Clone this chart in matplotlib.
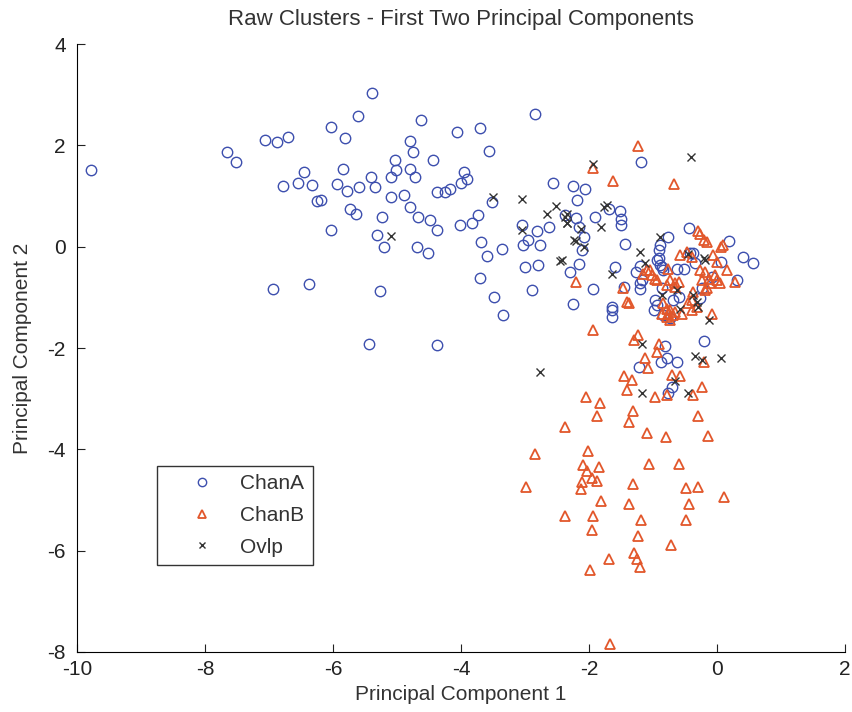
import matplotlib.pyplot as plt
import numpy as np

plt.rcParams['font.family'] = ['Liberation Sans', 'DejaVu Sans']
plt.rcParams['axes.unicode_minus'] = False

# projected spike waveforms, first two principal components
chan_a = np.array([
    [-9.78, 1.51], [-7.65, 1.87], [-7.52, 1.68], [-7.06, 2.10], [-6.88, 2.06],
    [-6.71, 2.16], [-6.03, 2.37], [-5.81, 2.14], [-6.45, 1.47], [-6.54, 1.25],
    [-6.33, 1.21], [-6.78, 1.19], [-6.25, 0.90], [-5.93, 1.23], [-5.84, 1.53],
    [-6.03, 0.34], [-6.93, -0.84], [-6.37, -0.74], [-5.39, 3.04], [-5.61, 2.59],
    [-4.62, 2.51], [-4.07, 2.27], [-3.71, 2.34], [-2.85, 2.62], [-4.79, 2.08],
    [-4.75, 1.88], [-3.57, 1.89], [-5.03, 1.72], [-4.43, 1.72], [-5.01, 1.51],
    [-4.79, 1.53], [-3.96, 1.47], [-3.91, 1.33], [-4.00, 1.25], [-5.40, 1.37],
    [-5.09, 1.37], [-4.72, 1.37], [-5.78, 1.11], [-5.59, 1.18], [-5.34, 1.18],
    [-6.18, 0.92], [-5.09, 0.98], [-4.89, 1.03], [-4.38, 1.08], [-4.25, 1.08],
    [-4.17, 1.14], [-3.51, 0.88], [-5.73, 0.75], [-5.64, 0.65], [-5.23, 0.59],
    [-4.79, 0.78], [-4.67, 0.59], [-4.49, 0.52], [-4.37, 0.34], [-3.74, 0.62],
    [-3.83, 0.46], [-4.01, 0.42], [-5.31, 0.24], [-5.21, 0.00], [-4.68, 0.00],
    [-4.51, -0.13], [-3.69, 0.09], [-3.60, -0.18], [-3.36, -0.05], [-3.71, -0.61],
    [-3.48, -1.00], [-3.34, -1.35], [-5.26, -0.88], [-5.43, -1.91], [-4.38, -1.94],
    [-2.57, 1.26], [-2.25, 1.19], [-2.06, 1.15], [-2.19, 0.92], [-3.05, 0.42],
    [-2.81, 0.31], [-2.63, 0.39], [-2.96, 0.13], [-3.03, 0.03], [-2.76, 0.03],
    [-3.00, -0.40], [-2.80, -0.36], [-2.89, -0.86], [-2.30, -0.50], [-2.25, -1.13],
    [-2.37, 0.62], [-1.19, 1.67], [-1.69, 0.75], [-1.52, 0.71], [-1.90, 0.59],
    [-1.50, 0.54], [-1.50, 0.42], [-2.21, 0.56], [-2.16, 0.39], [-2.08, 0.19],
    [-2.11, -0.07], [-1.43, 0.06], [-2.16, -0.34], [-1.93, -0.84], [-1.60, -0.40],
    [-1.64, -1.18], [-1.21, -0.38], [-1.26, -0.50], [-1.20, -0.72], [-1.21, -0.84],
    [-0.76, 0.19], [-0.89, 0.03], [-0.91, -0.07], [-0.91, -0.23], [-0.86, -0.40],
    [-0.43, 0.38], [0.18, 0.11], [0.40, -0.20], [0.56, -0.33], [-0.42, -0.12],
    [-0.51, -0.43], [0.31, -0.66], [-0.08, -0.59], [-1.64, -1.25], [-1.64, -1.38],
    [-0.81, -1.96], [-0.78, -2.20], [-0.88, -2.27], [-0.63, -2.27], [-1.22, -2.37],
    [-0.20, -1.87], [-0.71, -2.76], [-0.76, -2.89], [-0.94, -0.27], [-0.89, -0.36],
    [-0.84, -0.46], [-0.37, -0.13], [-1.17, -0.66], [-1.46, -0.79], [-0.63, -0.43],
    [-0.34, -0.33], [-0.86, -0.82], [-0.97, -1.05], [-0.99, -1.25], [-0.94, -1.15],
    [-0.84, -1.35], [-0.73, -1.41], [-0.68, -1.05], [-0.60, -0.99], [-0.24, -0.82],
    [-0.26, -1.02], [0.07, -0.30],
])

chan_b = np.array([
    [-1.24, 1.98], [-1.94, 1.56], [-1.63, 1.30], [-0.67, 1.24], [-2.21, -0.69],
    [-1.47, -0.82], [-1.38, -1.12], [-0.29, 0.32], [-0.21, 0.13], [0.10, 0.03],
    [-0.26, 0.26], [-0.16, 0.09], [0.07, 0.00], [-0.58, -0.17], [-0.47, -0.10],
    [-0.39, -0.20], [-0.06, -0.17], [0.00, -0.30], [0.15, -0.46], [-1.10, -0.46],
    [-1.02, -0.56], [-0.94, -0.66], [-0.76, -0.43], [-0.26, -0.46], [-0.19, -0.50],
    [-0.24, -0.66], [-0.13, -0.63], [-0.03, -0.56], [0.00, -0.66], [-0.11, -0.72],
    [0.05, -0.72], [0.28, -0.69], [-0.73, -0.66], [-0.65, -0.72], [-0.60, -0.69],
    [-0.78, -0.76], [-0.65, -0.79], [-0.19, -0.86], [-0.37, -0.89], [-0.39, -1.05],
    [-0.45, -1.12], [-0.32, -1.18], [-1.41, -1.09], [-0.84, -1.12], [-0.78, -1.22],
    [-0.73, -1.25], [-0.76, -1.32], [-0.86, -1.32], [-0.68, -1.35], [-0.65, -1.28],
    [-0.73, -1.45], [-0.78, -1.38], [-0.55, -1.32], [-0.39, -1.25], [-1.15, -0.53],
    [-1.04, -0.46], [-0.97, -0.63], [-0.16, -0.82], [-0.08, -1.32], [-1.93, -1.64],
    [-1.23, -1.74], [-1.30, -1.84], [-0.90, -1.91], [-0.94, -2.07], [-1.12, -2.20],
    [-1.08, -2.40], [-0.21, -2.27], [-0.71, -2.53], [-0.58, -2.56], [-1.46, -2.56],
    [-1.33, -2.63], [-1.41, -2.82], [-0.24, -2.76], [-0.97, -2.96], [-0.78, -2.92],
    [-0.37, -2.92], [-2.05, -2.96], [-1.83, -3.09], [-1.87, -3.34], [-1.31, -3.25],
    [-1.38, -3.45], [-0.29, -3.35], [-2.37, -3.55], [-1.10, -3.68], [-0.79, -3.76],
    [-0.14, -3.73], [-2.85, -4.10], [-2.01, -4.04], [-2.10, -4.31], [-1.84, -4.35],
    [-2.03, -4.43], [-1.96, -4.56], [-1.87, -4.63], [-2.11, -4.65], [-2.13, -4.78],
    [-1.07, -4.29], [-0.60, -4.29], [-2.98, -4.74], [-1.32, -4.69], [-0.49, -4.77],
    [-0.30, -4.74], [0.11, -4.94], [-1.82, -5.01], [-1.37, -5.08], [-0.44, -5.08],
    [-2.37, -5.32], [-1.94, -5.32], [-1.18, -5.40], [-0.49, -5.40], [-1.96, -5.60],
    [-1.24, -5.71], [-0.72, -5.89], [-1.29, -6.04], [-1.25, -6.17], [-1.21, -6.32],
    [-1.68, -6.17], [-1.99, -6.38], [-1.67, -7.84],
])

ovlp = np.array([
    [-5.09, 0.21], [-3.50, 0.98], [-3.05, 0.94], [-2.52, 0.80], [-2.66, 0.65],
    [-2.34, 0.65], [-2.35, 0.47], [-3.05, 0.34], [-2.21, 0.11], [-2.45, -0.28],
    [-1.94, 1.64], [-0.40, 1.77], [-1.72, 0.82], [-1.76, 0.78], [-2.37, 0.59],
    [-2.34, 0.46], [-2.13, 0.36], [-1.82, 0.39], [-2.24, 0.14], [-2.08, 0.00],
    [-2.42, -0.27], [-1.64, -0.53], [-1.21, -0.10], [-1.12, -0.33], [-0.89, 0.19],
    [-0.45, -0.15], [-0.21, -0.23], [-0.19, -0.27], [-0.63, -0.86], [-0.86, -0.96],
    [-0.37, -0.96], [-0.29, -1.18], [-0.32, -1.09], [-0.58, -1.22], [-0.13, -1.45],
    [-1.17, -1.91], [-0.34, -2.16], [-0.24, -2.23], [0.07, -2.20], [-0.65, -2.66],
    [-1.17, -2.89], [-0.46, -2.89], [-2.76, -2.47],
])

fig = plt.figure(figsize=(8.52, 7.12), dpi=100)
ax = fig.add_axes([0.0904, 0.0843, 0.9014, 0.8537])

ax.plot(chan_a[:, 0], chan_a[:, 1], 'o', mfc='none', mec='#3d4fae',
        ms=7.5, mew=1.0, label='ChanA')
ax.plot(chan_b[:, 0], chan_b[:, 1], '^', mfc='none', mec='#e2572b',
        ms=6.5, mew=1.3, label='ChanB')
ax.plot(ovlp[:, 0], ovlp[:, 1], 'x', color='#333333',
        ms=6, mew=1.0, label='Ovlp')

ax.set_xlim(-10, 2)
ax.set_ylim(-8, 4)
ax.set_xticks(np.arange(-10, 3, 2))
ax.set_yticks(np.arange(-8, 5, 2))
ax.spines['top'].set_visible(False)
ax.spines['right'].set_visible(False)
ax.tick_params(direction='in', length=6, labelsize=15, colors='#222222')
ax.tick_params(axis='x', pad=6)
ax.tick_params(axis='y', pad=8)

ax.set_title('Raw Clusters - First Two Principal Components', fontsize=16,
             color='#333333', pad=14)
ax.set_xlabel('Principal Component 1', fontsize=15, color='#333333',
              labelpad=4)
ax.set_ylabel('Principal Component 2', fontsize=15, color='#333333',
              labelpad=11)

leg = ax.legend(loc='lower left', bbox_to_anchor=(0.104, 0.143),
                borderaxespad=0, fancybox=False, edgecolor='black',
                fontsize=15, markerscale=0.8, handlelength=3.5,
                handletextpad=0.1, borderpad=0.4, labelspacing=0.62)
leg.get_frame().set_linewidth(1.0)
for t in leg.get_texts():
    t.set_color('#333333')

fig.savefig('out.png', dpi=100)
